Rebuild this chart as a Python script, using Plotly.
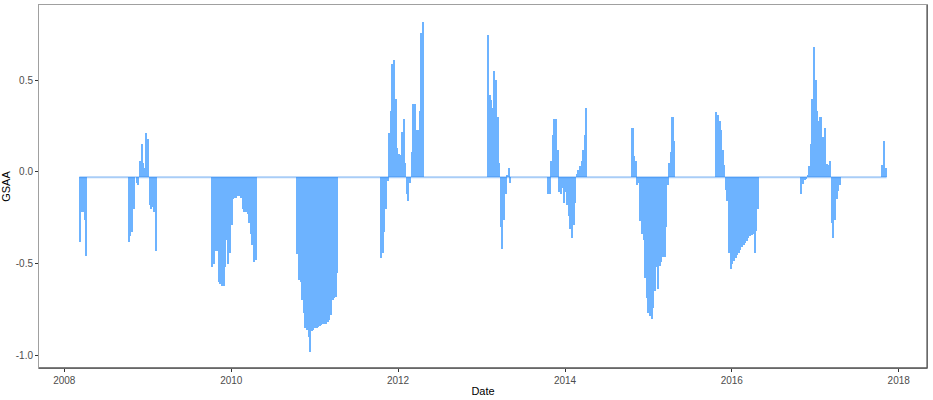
import pandas as pd
import plotly.graph_objects as go

# ---- data: weekly GSAA values, one list per contiguous segment ----
seg_starts = ["2008-03-07", "2008-10-07", "2009-10-08", "2010-10-15", "2011-10-17",
              "2013-01-26", "2013-10-16", "2014-10-21", "2015-10-23", "2016-10-29",
              "2017-10-19"]

gsaa_2008a = [-0.38, -0.22, -0.22, -0.26, -0.46]
gsaa_2008b = [-0.38, -0.35, -0.33, -0.20, -0.03, -0.06, -0.07, 0.06, 0.15, 0.05,
              0.02, 0.21, 0.18, -0.18, -0.20, -0.19, -0.22, -0.43]
gsaa_2009 = [-0.52, -0.50, -0.43, -0.43, -0.60, -0.61, -0.62, -0.62, -0.52, -0.37,
             -0.50, -0.44, -0.29, -0.15, -0.145, -0.14, -0.13, -0.13, -0.14, -0.20,
             -0.22, -0.22, -0.23, -0.28, -0.34, -0.40, -0.49, -0.48]
gsaa_2010 = [-0.45, -0.59, -0.60, -0.70, -0.77, -0.85, -0.86, -0.90, -0.98, -0.87,
             -0.86, -0.85, -0.85, -0.845, -0.84, -0.835, -0.83, -0.83, -0.83, -0.82,
             -0.81, -0.78, -0.70, -0.69, -0.68, -0.55]
gsaa_2011 = [-0.47, -0.44, -0.33, -0.20, -0.05, 0.21, 0.33, 0.59, 0.61, 0.40,
             0.13, 0.10, 0.09, 0.22, 0.29, 0.05, -0.12, -0.16, -0.06, 0.11,
             0.37, 0.37, 0.23, 0.23, 0.33, 0.76, 0.82]
gsaa_2013a = [0.745, 0.42, 0.39, 0.35, 0.55, 0.50, 0.30, 0.05, -0.30, -0.42,
              -0.26, -0.12, -0.015, 0.02, -0.06]
gsaa_2013b = [-0.12, -0.12, 0.06, 0.20, 0.29, 0.29, 0.12, -0.11, -0.12, -0.09,
              -0.17, -0.11, -0.18, -0.24, -0.31, -0.36, -0.29, -0.17, -0.01, 0.01,
              0.03, 0.06, 0.12, 0.20, 0.35]
gsaa_2014 = [0.24, 0.085, 0.06, -0.07, -0.06, -0.27, -0.34, -0.37, -0.58, -0.69,
             -0.77, -0.785, -0.80, -0.74, -0.65, -0.52, -0.64, -0.515, -0.49, -0.465,
             -0.465, -0.30, -0.07, 0.05, 0.11, 0.30, 0.17]
gsaa_2015 = [0.328, 0.31, 0.28, 0.226, 0.12, 0.04, -0.10, -0.16, -0.44, -0.53,
             -0.50, -0.485, -0.47, -0.455, -0.44, -0.425, -0.41, -0.40, -0.39, -0.375,
             -0.36, -0.35, -0.342, -0.34, -0.44, -0.32, -0.20]
gsaa_2016 = [-0.12, -0.065, -0.045, -0.04, -0.015, 0.03, 0.15, 0.40, 0.68, 0.50,
             0.33, 0.28, 0.30, 0.19, 0.19, 0.24, 0.045, 0.035, 0.06, -0.28,
             -0.36, -0.26, -0.15, -0.105, -0.07]
gsaa_2017 = [0.04, 0.17, 0.02]

segments = [gsaa_2008a, gsaa_2008b, gsaa_2009, gsaa_2010, gsaa_2011, gsaa_2013a,
            gsaa_2013b, gsaa_2014, gsaa_2015, gsaa_2016, gsaa_2017]

baseline = -0.03
y_ticks = [-1.0, -0.5, 0.0, 0.5]
y_tick_labels = ["-1.0", "-0.5", "0.0", "0.5"]
x_tick_years = [2008, 2010, 2012, 2014, 2016, 2018]

# ---- assemble ----
xs, vs = [], []
for start, vals in zip(seg_starts, segments):
    d = pd.date_range(start, periods=len(vals), freq="7D")
    xs.extend(d)
    vs.extend(vals)

week_ms = 7 * 24 * 3600 * 1000
bar_color = "#6db3ff"

fig = go.Figure()
fig.add_trace(go.Bar(
    x=xs, y=[v - baseline for v in vs], base=baseline,
    width=week_ms, offset=0,
    marker=dict(color=bar_color, line=dict(width=0)),
    showlegend=False,
))
first, last = min(xs), max(xs) + pd.Timedelta(days=7)
fig.add_trace(go.Scatter(
    x=[first, last], y=[baseline, baseline], mode="lines",
    line=dict(color="rgba(40,130,235,0.4)", width=2),
    showlegend=False,
))

span = last - first
x_range = [first - span * 0.05, last + span * 0.05]
ymin, ymax = min(vs + [baseline]), max(vs + [baseline])
yspan = ymax - ymin
y_range = [ymin - 0.05 * yspan, ymax + 0.05 * yspan]

fig.update_layout(
    width=933, height=400,
    margin=dict(l=39, r=6, t=5, b=32, autoexpand=False),
    paper_bgcolor="white", plot_bgcolor="white",
    font=dict(family="Liberation Sans, Arial, sans-serif"),
    bargap=0,
    xaxis=dict(
        type="date", range=x_range, automargin=False,
        tickvals=[pd.Timestamp(f"{y}-01-01") for y in x_tick_years],
        ticktext=[str(y) for y in x_tick_years],
        ticks="outside", ticklen=3, tickcolor="#333333", tickwidth=1,
        tickfont=dict(size=10, color="#4d4d4d"),
        showgrid=False, zeroline=False,
        showline=True, linecolor="#a0a0a0", linewidth=1, mirror=True,
        title=dict(text="Date", font=dict(size=11, color="black"), standoff=2),
    ),
    yaxis=dict(
        range=y_range, automargin=False,
        tickvals=y_ticks, ticktext=y_tick_labels,
        ticks="outside", ticklen=3, tickcolor="#333333", tickwidth=1,
        tickfont=dict(size=10, color="#4d4d4d"),
        showgrid=False, zeroline=False,
        showline=True, linecolor="#a0a0a0", linewidth=1, mirror=True,
        title=dict(text="GSAA", font=dict(size=11, color="black"), standoff=2),
    ),
    shapes=[
        dict(type="line", xref="paper", yref="paper", x0=1, x1=1, y0=0, y1=1,
             line=dict(color="#333333", width=1)),
        dict(type="line", xref="paper", yref="paper", x0=0, x1=1, y0=0, y1=0,
             line=dict(color="#555555", width=1.5)),
    ],
)

fig.write_html("out.html", config={"displayModeBar": False},
               post_script="document.body.style.margin='0';document.body.style.overflow='hidden';")
